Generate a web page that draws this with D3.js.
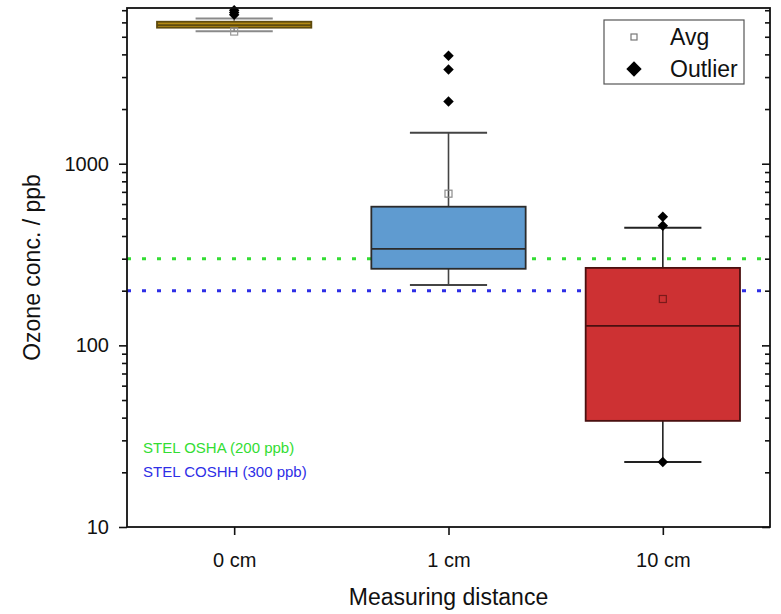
<!DOCTYPE html>
<html>
<head>
<meta charset="utf-8">
<script src="https://cdn.jsdelivr.net/npm/d3@7"></script>
<style>
  body { margin: 0; background: #fff; }
  text { font-family: "Liberation Sans", Arial, sans-serif; }
</style>
</head>
<body>
<svg id="svg" width="781" height="614"></svg>
<script>
// data
const categories = ['0 cm', '1 cm', '10 cm'];
const whiskerLow  = [5360, 215, 22.8];
const q1          = [5610, 264, 38.4];
const median      = [5800, 340, 128];
const q3          = [6050, 580, 267];
const whiskerHigh = [6300, 1483, 444];
const average     = [5340, 684, 180];
const outliers    = [[6600, 6800, 7000], [2198, 3297, 3936], [22.8, 455, 511]];

const boxFill   = ['#b48a12', '#5f9bd0', '#cd3133'];
const boxStroke = ['#5e4a0c', '#2b2b2b', '#4a1010'];
const whiskColor = ['#8a8a8a', '#444', '#222'];
const avgColor  = ['#999', '#8a8a8a', '#7a1a1a'];

const yTicks = [10, 100, 1000];
const limits = [{v: 300, color: '#33dd33'}, {v: 200, color: '#2e2ee6'}];
const limitLabels = [{t: 'STEL OSHA (200 ppb)', color: '#33dd33'}, {t: 'STEL COSHH (300 ppb)', color: '#2e2ee6'}];

const svg = d3.select('#svg');
const m = {left: 127, right: 770, top: 8, bottom: 527};

const x = d3.scalePoint().domain(categories).range([m.left, m.right]).padding(0.5);
const y = d3.scaleLog().domain([10, 7200]).range([m.bottom, m.top]);
const step = x.step();
const bw = step * 0.72;

// minor ticks
const minors = [];
[10, 100, 1000].forEach(d => { for (let k = 2; k <= 9; k++) if (d * k <= 7200) minors.push(d * k); });

// limit lines (behind boxes)
svg.append('g').selectAll('line').data(limits).enter().append('line')
  .attr('x1', m.left).attr('x2', m.right)
  .attr('y1', d => y(d.v)).attr('y2', d => y(d.v))
  .attr('stroke', d => d.color).attr('stroke-width', 3)
  .attr('stroke-dasharray', '4,11');

const data = categories.map((c, i) => ({c, i}));
const g = svg.append('g');

// whiskers
g.selectAll('.wv').data(data).enter().append('line')
  .attr('x1', d => x(d.c)).attr('x2', d => x(d.c))
  .attr('y1', d => y(whiskerLow[d.i])).attr('y2', d => y(whiskerHigh[d.i]))
  .attr('stroke', d => whiskColor[d.i]).attr('stroke-width', 1.6);
[whiskerLow, whiskerHigh].forEach(arr => {
  g.selectAll(null).data(data).enter().append('line')
    .attr('x1', d => x(d.c) - bw / 4).attr('x2', d => x(d.c) + bw / 4)
    .attr('y1', d => y(arr[d.i])).attr('y2', d => y(arr[d.i]))
    .attr('stroke', d => whiskColor[d.i]).attr('stroke-width', 2);
});

// boxes
g.selectAll('rect').data(data).enter().append('rect')
  .attr('x', d => x(d.c) - bw / 2).attr('width', bw)
  .attr('y', d => y(q3[d.i])).attr('height', d => y(q1[d.i]) - y(q3[d.i]))
  .attr('fill', d => boxFill[d.i]).attr('stroke', d => boxStroke[d.i]).attr('stroke-width', 1.8);
g.selectAll('.med').data(data).enter().append('line')
  .attr('x1', d => x(d.c) - bw / 2).attr('x2', d => x(d.c) + bw / 2)
  .attr('y1', d => y(median[d.i])).attr('y2', d => y(median[d.i]))
  .attr('stroke', d => boxStroke[d.i]).attr('stroke-width', 1.8);

// averages
g.selectAll('.avg').data(data).enter().append('rect')
  .attr('x', d => x(d.c) - 3.5).attr('y', d => y(average[d.i]) - 3.5)
  .attr('width', 7).attr('height', 7)
  .attr('fill', 'none').attr('stroke', d => avgColor[d.i]).attr('stroke-width', 1.2);

// outliers
const diamond = d3.symbol().type(d3.symbolDiamond2).size(70);
const outPts = [];
outliers.forEach((arr, i) => arr.forEach(v => outPts.push({c: categories[i], v})));
g.selectAll('.out').data(outPts).enter().append('path')
  .attr('d', diamond)
  .attr('transform', d => `translate(${x(d.c)},${y(d.v)})`)
  .attr('fill', '#000');

// axes
const fs = 20;
const yAxis = svg.append('g').attr('transform', `translate(${m.left},0)`)
  .call(d3.axisLeft(y).tickValues(yTicks).tickFormat(d3.format('d')).tickSize(8).tickPadding(10));
yAxis.selectAll('text').attr('font-size', fs).attr('fill', '#111');
svg.append('g').attr('transform', `translate(${m.left},0)`)
  .call(d3.axisLeft(y).tickValues(minors).tickFormat('').tickSize(5));
svg.append('g').attr('transform', `translate(${m.right},0)`)
  .call(d3.axisRight(y).tickValues(yTicks).tickFormat('').tickSize(-8));
svg.append('g').attr('transform', `translate(${m.right},0)`)
  .call(d3.axisRight(y).tickValues(minors).tickFormat('').tickSize(-5));
const xAxis = svg.append('g').attr('transform', `translate(0,${m.bottom})`)
  .call(d3.axisBottom(x).tickSize(8).tickPadding(18));
xAxis.selectAll('text').attr('font-size', fs).attr('fill', '#111');
svg.selectAll('.domain').remove();
svg.selectAll('.tick line').attr('stroke', '#111').attr('stroke-width', 1.6);

// frame
svg.append('rect').attr('x', m.left).attr('y', m.top)
  .attr('width', m.right - m.left).attr('height', m.bottom - m.top)
  .attr('fill', 'none').attr('stroke', '#111').attr('stroke-width', 1.8);

// titles
svg.append('text').attr('x', (m.left + m.right) / 2).attr('y', 605)
  .attr('text-anchor', 'middle').attr('font-size', 23).attr('fill', '#111')
  .text('Measuring distance');
svg.append('text').attr('transform', `translate(40,${(m.top + m.bottom) / 2}) rotate(-90)`)
  .attr('text-anchor', 'middle').attr('font-size', 23).attr('fill', '#111')
  .text('Ozone conc. / ppb');

// limit labels
svg.selectAll('.lim').data(limitLabels).enter().append('text')
  .attr('x', 143).attr('y', (d, i) => 453 + i * 24)
  .attr('font-size', 15).attr('fill', d => d.color)
  .text(d => d.t);

// legend
const lg = svg.append('g');
lg.append('rect').attr('x', 604).attr('y', 20).attr('width', 140).attr('height', 64)
  .attr('fill', '#fff').attr('stroke', '#555').attr('stroke-width', 1.2);
lg.append('rect').attr('x', 631).attr('y', 34).attr('width', 6).attr('height', 6)
  .attr('fill', 'none').attr('stroke', '#777').attr('stroke-width', 1.2);
lg.append('path').attr('d', d3.symbol().type(d3.symbolDiamond2).size(150))
  .attr('transform', 'translate(634,69)').attr('fill', '#000');
lg.append('text').attr('x', 670).attr('y', 45).attr('font-size', 23).attr('fill', '#111').text('Avg');
lg.append('text').attr('x', 670).attr('y', 77).attr('font-size', 23).attr('fill', '#111').text('Outlier');
</script>
</body>
</html>
